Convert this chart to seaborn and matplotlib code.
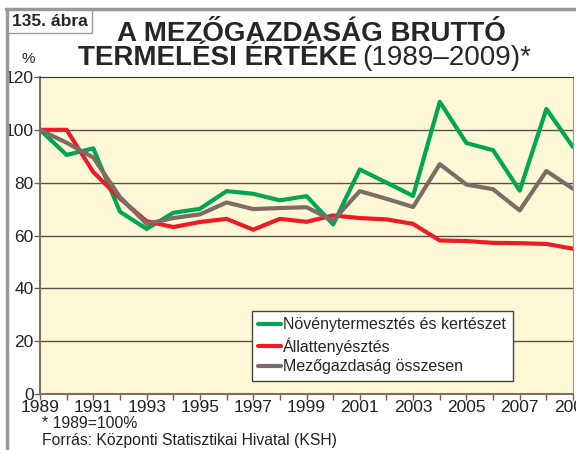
import pandas as pd
import numpy as np
import matplotlib
matplotlib.use('Agg')
import matplotlib.pyplot as plt
import seaborn as sns

years = list(range(1989, 2010))
novenytermesztes = [100, 90.5, 93, 69, 62.5, 68.6, 70.1, 76.8, 75.8, 73.3, 74.9,
                    64.2, 85, 80, 75, 110.6, 95, 92.3, 77, 107.9, 93.5]
allattenyesztes = [100, 100, 84, 74, 65.4, 63.2, 65.1, 66.3, 62.2, 66.3, 65.2,
                   67.6, 66.6, 66.1, 64.4, 58.1, 57.9, 57.2, 57.1, 56.8, 55]
osszesen = [100, 95.1, 89.5, 74.6, 64.4, 66.6, 68, 72.5, 70, 70.4, 70.7,
            65.7, 76.8, 73.9, 70.8, 87, 79.3, 77.5, 69.5, 84.4, 77.7]
series_names = ['Növénytermesztés és kertészet', 'Állattenyésztés', 'Mezőgazdaság összesen']
colors = ['#00a651', '#ed1c24', '#7d6b65']
yticks = [0, 20, 40, 60, 80, 100, 120]

df = pd.DataFrame({'year': years * 3,
                   'value': novenytermesztes + allattenyesztes + osszesen,
                   'series': np.repeat(series_names, len(years))})

sns.set_style('white')
plt.rcParams['font.family'] = ['Liberation Sans', 'DejaVu Sans']

W, H = 576, 450
fig = plt.figure(figsize=(W / 100, H / 100), dpi=100)
ax = fig.add_axes([40 / W, 1 - 394 / H, (573 - 40) / W, (394 - 77) / H])
ax.set_facecolor('#fff8d6')

for y in yticks[1:-1]:
    ax.axhline(y, color='#5a5048', lw=1.0, zorder=1)

sns.lineplot(data=df, x='year', y='value', hue='series', palette=colors,
             linewidth=3.0, ax=ax, legend=True, zorder=3)

ax.set_xlim(1989, 2009)
ax.set_ylim(0, 120)
ax.set_xticks(years[::2])
ax.set_xticks(years, minor=True)
ax.set_yticks(yticks)
ax.tick_params(axis='both', which='both', direction='out', color='#6b6058',
               labelsize=12.5, length=4, width=1, bottom=True, left=True, pad=0.5)
ax.tick_params(axis='both', which='major', labelcolor='#222222')
ax.set_xlabel('')
ax.set_ylabel('')
for s in ['left', 'bottom']:
    ax.spines[s].set_color('#7d7060')
    ax.spines[s].set_linewidth(1.5)
ax.spines['top'].set_color('#333333')
ax.spines['right'].set_color('#999999')

leg = ax.legend(title=None, loc='upper left', bbox_to_anchor=((252 - 40) / 533, (394 - 311) / 317),
                borderaxespad=0, fontsize=11.5, frameon=True, fancybox=False, handlelength=1.4,
                handletextpad=0.15, borderpad=0.4, labelspacing=0.3)
leg.get_frame().set_edgecolor('#444444')
leg.get_frame().set_facecolor('white')
leg.get_frame().set_alpha(1)
leg.set_zorder(5)

def px(x, y):
    return x / W, 1 - y / H

# frame decorations
fig.add_artist(plt.Line2D([6 / W, 1], [1 - 9 / H] * 2, color='#999999', lw=2.5))
fig.add_artist(plt.Line2D([7 / W] * 2, [0, 1 - 9 / H], color='#999999', lw=2.5))
fig.text(*px(12, 26), '135. ábra', fontsize=12.5, fontweight='bold', va='baseline',
         bbox=dict(boxstyle='square,pad=0.25', fc='white', ec='#999999', lw=1))

fig.text(*px(311, 41), 'A MEZŐGAZDASÁG BRUTTÓ', fontsize=20, fontweight='bold',
         ha='center', va='baseline')
fig.text(*px(357, 65), 'TERMELÉSI ÉRTÉKE', fontsize=20, fontweight='bold',
         ha='right', va='baseline')
fig.text(*px(362, 65), '(1989–2009)*', fontsize=20, ha='left', va='baseline')
fig.text(*px(28, 59), '%', fontsize=11, ha='center', va='center')

fig.text(*px(42, 424), '* 1989=100%', fontsize=11.3, va='center', color='#222222')
fig.text(*px(42, 441), 'Forrás: Központi Statisztikai Hivatal (KSH)', fontsize=11.3,
         va='center', color='#222222')

fig.savefig('out.png', dpi=100)
